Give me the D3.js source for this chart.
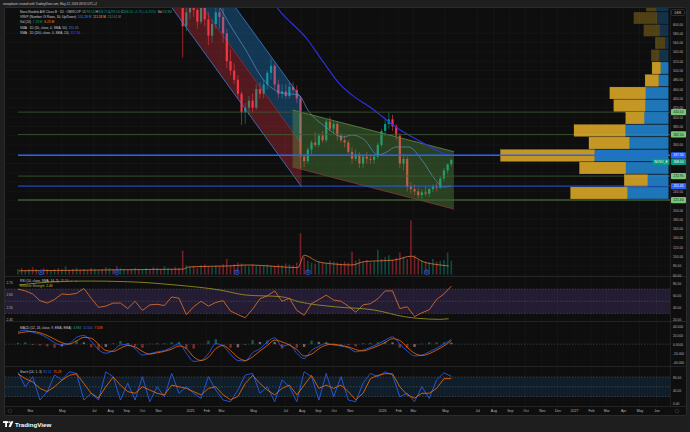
<!DOCTYPE html>
<html lang="en">
  <head>
    <meta charset="utf-8">
    <title>Novo Nordisk B - 1D</title>
    <script type="text/javascript" src="https://cdn.jsdelivr.net/npm/d3@7/dist/d3.min.js"></script>
    <style>
      body { margin: 0; background: #1e1e1e; }
      svg { display: block; font-family: "Liberation Sans", Arial, sans-serif; }
      text { white-space: pre; }
    </style>
  </head>
  <body>
    <script type="text/javascript">
    // ---------------- data ----------------

    // weekly candles, one per week from Monday 2 Dec 2024 to Monday 11 May 2026 (DKK)
    var candleOpen = [720,710,705,595,625,640,630,605,640,610,
      575,600,625,615,580,520,500,480,450,410,
      420,435,420,460,450,470,495,510,470,450,
      455,445,465,458,440,315,305,330,345,340,
      360,350,390,375,385,360,350,345,325,310,
      320,300,315,310,308,315,340,370,385,395,
      380,360,300,310,250,245,240,232,238,235,
      245,250,248,268,285,298.5];
    var candleHigh = [735,725,720,640,660,665,650,650,660,625,
      610,640,645,640,590,545,515,490,455,430,
      445,450,470,475,480,500,525,515,480,470,
      470,475,475,468,445,320,335,350,368,365,
      370,395,400,390,390,365,360,350,335,330,
      325,320,325,320,320,345,375,395,410,405,
      385,365,320,315,260,255,248,245,250,248,
      255,258,272,290,300,308.75];
    var candleLow = [700,690,528,585,610,615,590,600,595,555,
      560,590,590,560,505,490,470,440,383,385,
      405,410,415,440,440,460,480,460,440,440,
      440,440,450,430,290,292,300,320,335,335,
      345,345,370,365,350,345,335,320,300,305,
      290,290,300,300,300,310,335,360,375,370,
      350,290,285,240,235,232,225,223,230,228,
      238,240,245,262,278,293];
    var candleClose = [710,705,595,625,640,630,605,640,610,575,
      600,625,615,580,520,500,480,450,410,420,
      435,420,460,450,470,495,510,470,450,455,
      445,465,458,440,315,305,330,345,340,360,
      350,390,375,385,360,350,345,325,310,320,
      300,315,310,308,315,340,370,385,395,380,
      360,300,310,250,245,240,232,238,235,245,
      250,248,268,285,298.5,308];

    // weekly average volume (millions), weeks from Monday 5 Feb 2024
    var volumeM = [6,7,5,6,8,6,5,7,6, 5,6,7,6,9,5,6,7,5, 6,5,7,6,5,6,8,7,6,
      9,7,6,5,6,7,6,5,7, 6,8,7,6,9,7,6,8,7, 26,
      10,8,9,7,10,11,9,8,10,9,11, 17,
      10,11,13,12,10,9,11,10,9,10,11, 10,9,11,10,12,11,10,13, 45,
      19,15,13,12,14,13,12,15,14,13,12,14,13, 25,
      15,17,14,16,13,14, 27, 17,19,21,16,18, 24, 19,17, 59,
      21,16,15,14,13,17,14,15,16, 24, 15];
    // up/down colour of the volume weeks before the first candle
    var volumeEarlyDir = "uduudduddu" + "uduuddudud" + "duuduudduu" + "dduduuddud" + "uud";

    var volMaDates = ["2024-02-09","2024-04-21","2024-07-15","2024-10-15","2024-12-18","2024-12-30",
      "2025-01-20","2025-03-15","2025-04-20","2025-06-20","2025-07-25","2025-08-06","2025-09-01",
      "2025-10-01","2025-11-05","2025-11-28","2026-01-25","2026-02-26","2026-03-20","2026-04-21","2026-05-08"];
    var volMaValues = [4.1,4.4,4.9,5.5,5.8,8.2,8.7,9.3,10.4,8.5,7.5,21,14,11.5,10.4,14,15.8,20,14,10.4,9.3];

    var dividendDates = ["2024-03-22","2024-08-14","2025-03-31","2025-08-13","2026-03-27"];

    var sma50Dates = ["2025-02-20","2025-03-16","2025-04-17","2025-05-21","2025-06-25","2025-07-27",
      "2025-08-13","2025-09-16","2025-10-19","2025-11-05","2025-11-29","2025-12-24","2026-01-10",
      "2026-01-27","2026-02-21","2026-03-18","2026-04-13","2026-04-28","2026-05-12"];
    var sma50Values = [650,602,544,479.6,451.6,447,415,378.5,357,361.3,350.5,318.3,324.7,335.5,335.5,307.5,264.5,249.5,251.45];

    var sma200Dates = ["2025-05-15","2025-06-15","2025-08-13","2025-09-11","2025-10-11","2025-11-09",
      "2025-12-09","2026-01-02","2026-01-27","2026-03-10","2026-04-08","2026-05-08","2026-05-12"];
    var sma200Values = [690,636,565.6,519,473,443.7,421.5,400.6,378.5,350.5,332.6,318,317.56];

    // drawings
    var regressionDates = ["2024-11-01","2025-08-01"];
    var regressionUpper = [865.2,439.4];
    var regressionMid = [767.3,341.5];
    var regressionLower = [676,250.1];
    var channelDates = ["2025-07-15","2026-05-18"];
    var channelUpper = [415,325.4];
    var channelLower = [292.5,202];
    var greenLevels = [410.50,362.50,272.95,221.40];
    var blueLevels = [317.56,251.45];
    var lastClose = 308.00;

    // visible range volume profile, rows from the bottom (millions)
    var vrvpUp =   [8.3,4.2,8.6,14.9,7.9,8.7,4.9,4.7,4.6,2.0,1.6,1.8,0.7,1.7,2.3,2.5];
    var vrvpDown = [11.4,4.7,9.3,18.9,8.1,10.3,3.7,6.3,7.2,2.7,1.7,1.7,2.0,3.3,4.7,2.0];
    var vrvpLow = 223.2, vrvpStep = 26.88, vrvpValueAreaTop = 10;

    // oscillators, one point every two weeks from 7 Feb 2024
    var rsiValues = [70,67,62,51,47,53,62,61,63,71, 55,40,42,47,47,38,50,35,44,45,
      43,57,55,28,41,50,42,48,51,34, 28,23,37,54,59,67,50,55,35,27,
      46,53,60,52,50,42,32,44,46,54, 67,67,38,41,25,31,36,53,62,75];
    var relDates = ["2024-02-09","2024-04-21","2024-06-20","2024-09-03","2024-12-05","2025-02-27","2025-04-17",
      "2025-06-24","2025-07-27","2025-10-02","2025-12-17","2026-02-13","2026-03-10","2026-04-21","2026-05-08"];
    var relValues = [2.728,2.755,2.76,2.755,2.728,2.688,2.648,2.634,2.594,2.554,2.528,2.474,2.461,2.453,2.458];
    var macdValues = [27,31,26,22,14,3,-2,1,15,19, 6,-12,-20,-14,-2,-1,-10,-24,-21,-17,
      -14,-7,1,-20,-38,-36,-21,1,-4,-22, -36,-37,-19,-10,5,14,-5,-1,-20,-32,
      -14,-5,2,-2,-4,-8,-17,-13,-7,0, 9,16,0,-15,-26,-24,-17,-9,0,10.6];
    var signalValues = [24,27,28,25,19,11,3,0,7,15, 13,0,-14,-16,-9,-3,-6,-16,-22,-19,
      -16,-11,-4,-10,-28,-36,-29,-10,-3,-14, -29,-36,-28,-15,-3,9,5,-2,-12,-26,
      -22,-10,-2,0,-3,-6,-12,-15,-10,-4, 4,12,8,-7,-20,-25,-21,-13,-4,7.5];
    var stochK = [94,50,81,9,35,86,71,96,91,9, 30,9,96,81,9,61,9,81,4,50,
      19,91,30,50,30,14,81,40,9,4, 40,86,91,30,50,4,71,50,4,96,
      81,9,91,19,81,9,4,61,91,81, 96,86,19,30,4,50,14,71,93,82];
    var stochD = [90,75,65,45,35,50,70,85,90,60, 30,15,50,80,55,35,30,50,40,30,
      25,55,50,45,35,25,45,50,25,10, 20,60,85,60,40,25,45,55,25,55,
      85,45,55,45,55,35,10,30,75,85, 90,90,50,25,15,30,30,45,75,75];

    // axis labels
    var tickDates = ["2024-03-01","2024-05-01","2024-07-01","2024-08-01","2024-09-01","2024-10-01","2024-11-01",
      "2025-01-01","2025-02-01","2025-03-01","2025-05-01","2025-07-01","2025-08-01","2025-09-01","2025-10-01","2025-11-01",
      "2026-01-01","2026-02-01","2026-03-01","2026-05-01","2026-07-01","2026-08-01","2026-09-01","2026-10-01","2026-11-01","2026-12-01",
      "2027-01-01","2027-02-01","2027-03-01","2027-04-01","2027-05-01","2027-06-01"];
    var tickLabels = ["Mar","May","Jul","Aug","Sep","Oct","Nov","2025","Feb","Mar","May","Jul","Aug","Sep","Oct","Nov",
      "2026","Feb","Mar","May","Jul","Aug","Sep","Oct","Nov","Dec","2027","Feb","Mar","Apr","May","Jun"];
    var priceTicks = [600,580,560,540,520,500,480,460,440,420,400,380,360,340,320,300,280,260,240,220,200,180,160,140,120,100,80,60];
    var rsiTicks = [80,60,40,20];
    var relTicks = [2.75,2.65,2.55,2.45];
    var macdTicks = [40,20,0,-20,-40];
    var macdTickLabels = ["40.000","20.000","0.0000","-20.000","-40.000"];
    var stochTicks = [80,40,0];

    // ---------------- layout ----------------
    var w = 690, h = 432;
    var left = 5, right = 670;
    var upColor = "#089981", downColor = "#f23645";
    var parseDate = d3.timeParse("%Y-%m-%d");

    var svg = d3.select("body").append("svg").attr("width", w).attr("height", h);
    var defs = svg.append("defs");
    var addClip = function(id, y0, y1) {
      defs.append("clipPath").attr("id", id).append("rect")
        .attr("x", left).attr("y", y0).attr("width", right - left).attr("height", y1 - y0);
    };
    addClip("clipMain", 8, 276);
    addClip("clipRsi", 277, 321);
    addClip("clipMacd", 322, 366);
    addClip("clipStoch", 367, 406);

    // time scale anchored on the axis labels
    var x = d3.scaleTime()
      .domain(["2024-03-01","2025-01-01","2026-01-01","2026-05-01","2027-01-01","2027-06-01"].map(parseDate))
      .range([30, 190, 382, 445, 574, 656.5]);
    var y = d3.scaleLinear().domain([600, 200]).range([24, 210]);
    var yVol = d3.scaleLinear().domain([0, 60]).range([274.5, 219.5]);
    var yRsi = d3.scaleLinear().domain([80, 20]).range([283, 319.5]);
    var yRel = d3.scaleLinear().domain([2.75, 2.45]).range([282.3, 319.7]);
    var yMacd = d3.scaleLinear().domain([40, -40]).range([326, 362.3]);
    var yStoch = d3.scaleLinear().domain([80, 0]).range([377, 403]);

    // background and frame
    svg.append("rect").attr("width", w).attr("height", h).attr("fill", "#1e1e1e");
    svg.append("rect").attr("x", 4.5).attr("y", 7.5).attr("width", 682).attr("height", 408).attr("rx", 2)
      .attr("fill", "#0e0e0e").attr("stroke", "#2b2b2b");

    // grid
    var grid = svg.append("g");
    grid.selectAll("line.v").data(tickDates.map(parseDate)).enter().append("line")
      .attr("x1", function(d) { return x(d); }).attr("x2", function(d) { return x(d); })
      .attr("y1", 8).attr("y2", 406).attr("stroke", "#1a1a1a").attr("stroke-width", 0.6);
    grid.selectAll("line.h").data(priceTicks).enter().append("line")
      .attr("x1", left).attr("x2", right).attr("y1", function(d) { return y(d); }).attr("y2", function(d) { return y(d); })
      .attr("stroke", "#1a1a1a").attr("stroke-width", 0.6);

    // pane separators
    [276.5, 321.5, 366.5, 406.5].forEach(function(yy) {
      svg.append("line").attr("x1", left).attr("x2", 686).attr("y1", yy).attr("y2", yy).attr("stroke", "#2b2b2b").attr("stroke-width", 0.8);
    });
    svg.append("line").attr("x1", 670.5).attr("x2", 670.5).attr("y1", 8).attr("y2", 406).attr("stroke", "#2b2b2b").attr("stroke-width", 0.6);

    // ---------------- main pane ----------------
    var main = svg.append("g").attr("clip-path", "url(#clipMain)");

    var candleDates = d3.timeMonday.range(new Date(2024, 11, 2), new Date(2026, 4, 12));
    var candles = candleDates.map(function(d, i) {
      return { mid: d3.timeDay.offset(d, 2), open: candleOpen[i], high: candleHigh[i], low: candleLow[i], close: candleClose[i] };
    });

    // volume overlay
    var volumeDates = d3.timeMonday.range(new Date(2024, 1, 5), new Date(2026, 4, 12));
    var volumes = volumeDates.map(function(d, i) {
      var up;
      if (i < volumeEarlyDir.length) {
        up = volumeEarlyDir[i] === "u";
      } else {
        var c = candles[i - volumeEarlyDir.length];
        up = c.close >= c.open;
      }
      return { mid: d3.timeDay.offset(d, 2), v: volumeM[i], up: up };
    });
    main.selectAll("rect.vol").data(volumes).enter().append("rect")
      .attr("x", function(d) { return x(d.mid) - 0.8; })
      .attr("width", 1.6)
      .attr("y", function(d) { return yVol(d.v); })
      .attr("height", function(d) { return yVol(0) - yVol(d.v); })
      .attr("fill", function(d) { return d.up ? upColor : downColor; })
      .attr("opacity", 0.45);

    var volMa = volMaDates.map(function(d, i) { return [parseDate(d), volMaValues[i]]; });
    main.append("path").datum(volMa)
      .attr("d", d3.line().x(function(d) { return x(d[0]); }).y(function(d) { return yVol(d[1]); }).curve(d3.curveMonotoneX))
      .attr("fill", "none").attr("stroke", "#e0793a").attr("stroke-width", 0.8);

    var divs = main.selectAll("g.div").data(dividendDates.map(parseDate)).enter().append("g")
      .attr("transform", function(d) { return "translate(" + x(d) + ",272.3)"; });
    divs.append("circle").attr("r", 2.4).attr("fill", "#0d1a3a").attr("stroke", "#2962ff").attr("stroke-width", 0.7);
    divs.append("text").attr("text-anchor", "middle").attr("y", 1).attr("font-size", 2.8).attr("fill", "#6f9bff").text("D");

    // candles
    main.selectAll("line.wick").data(candles).enter().append("line")
      .attr("x1", function(d) { return x(d.mid); }).attr("x2", function(d) { return x(d.mid); })
      .attr("y1", function(d) { return y(d.high); }).attr("y2", function(d) { return y(d.low); })
      .attr("stroke", function(d) { return d.close >= d.open ? upColor : downColor; })
      .attr("stroke-width", 0.6);
    main.selectAll("rect.body").data(candles).enter().append("rect")
      .attr("x", function(d) { return x(d.mid) - 1.1; })
      .attr("width", 2.2)
      .attr("y", function(d) { return y(Math.max(d.open, d.close)); })
      .attr("height", function(d) { return Math.max(0.6, Math.abs(y(d.open) - y(d.close))); })
      .attr("fill", function(d) { return d.close >= d.open ? upColor : downColor; });

    // regression trend (blue upper half, red lower half)
    var rx0 = x(parseDate(regressionDates[0])), rx1 = x(parseDate(regressionDates[1]));
    var poly = function(a, b) {
      return [[rx0, y(a[0])], [rx1, y(a[1])], [rx1, y(b[1])], [rx0, y(b[0])]].join(" ");
    };
    main.append("polygon").attr("points", poly(regressionMid, regressionLower)).attr("fill", "rgba(242,54,69,0.3)");
    main.append("polygon").attr("points", poly(regressionUpper, regressionMid)).attr("fill", "rgba(33,150,243,0.3)");
    [[regressionUpper, "#3d7fd6"], [regressionLower, "#3d7fd6"], [regressionMid, "rgba(242,54,69,0.5)"]].forEach(function(l) {
      main.append("line").attr("x1", rx0).attr("x2", rx1).attr("y1", y(l[0][0])).attr("y2", y(l[0][1]))
        .attr("stroke", l[1]).attr("stroke-width", 0.8);
    });

    // parallel channel (green)
    var cx0 = x(parseDate(channelDates[0])), cx1 = x(parseDate(channelDates[1]));
    main.append("polygon")
      .attr("points", [[cx0, y(channelUpper[0])], [cx1, y(channelUpper[1])], [cx1, y(channelLower[1])], [cx0, y(channelLower[0])]].join(" "))
      .attr("fill", "rgba(96,170,70,0.33)");
    main.append("line").attr("x1", cx0).attr("x2", cx1).attr("y1", y(channelUpper[0])).attr("y2", y(channelUpper[1]))
      .attr("stroke", "#5f8f4a").attr("stroke-width", 0.8);
    main.append("line").attr("x1", cx0).attr("x2", cx1).attr("y1", y(channelLower[0])).attr("y2", y(channelLower[1]))
      .attr("stroke", "#8a3b34").attr("stroke-width", 0.8);

    // moving averages
    var sma = function(dates, values, color, width) {
      var pts = dates.map(function(d, i) { return [parseDate(d), values[i]]; });
      main.append("path").datum(pts)
        .attr("d", d3.line().x(function(d) { return x(d[0]); }).y(function(d) { return y(d[1]); }).curve(d3.curveMonotoneX))
        .attr("fill", "none").attr("stroke", color).attr("stroke-width", width);
    };
    sma(sma50Dates, sma50Values, "#5b8ec4", 0.7);
    sma(sma200Dates, sma200Values, "#2e32e8", 1.1);

    // horizontal levels (green ones sit under the profile)
    main.selectAll("line.glevel").data(greenLevels).enter().append("line")
      .attr("x1", 18).attr("x2", right).attr("y1", function(d) { return y(d); }).attr("y2", function(d) { return y(d); })
      .attr("stroke", "#3f5e33").attr("stroke-width", function(d, i) { return i === greenLevels.length - 1 ? 1.6 : 0.8; });

    // volume profile
    var rows = vrvpUp.map(function(u, i) {
      return { up: u, down: vrvpDown[i], lo: vrvpLow + i * vrvpStep, hi: vrvpLow + (i + 1) * vrvpStep, va: i <= vrvpValueAreaTop };
    });
    var vw = d3.scaleLinear().domain([0, d3.max(rows, function(r) { return r.up + r.down; })]).range([0, 168]);
    var profileRight = 668.5;
    main.selectAll("rect.vup").data(rows).enter().append("rect")
      .attr("x", function(r) { return profileRight - vw(r.up); }).attr("width", function(r) { return vw(r.up); })
      .attr("y", function(r) { return y(r.hi) + 0.4; }).attr("height", function(r) { return y(r.lo) - y(r.hi) - 0.8; })
      .attr("fill", function(r) { return r.va ? "rgba(33,133,210,0.88)" : "rgba(33,133,210,0.3)"; });
    main.selectAll("rect.vdown").data(rows).enter().append("rect")
      .attr("x", function(r) { return profileRight - vw(r.up + r.down); }).attr("width", function(r) { return vw(r.down); })
      .attr("y", function(r) { return y(r.hi) + 0.4; }).attr("height", function(r) { return y(r.lo) - y(r.hi) - 0.8; })
      .attr("fill", function(r) { return r.va ? "rgba(222,170,40,0.88)" : "rgba(222,170,40,0.32)"; })
      .attr("stroke", function(r) { return r.va ? "rgba(255,200,60,0.5)" : "none"; }).attr("stroke-width", 0.4);

    main.selectAll("line.blevel").data(blueLevels).enter().append("line")
      .attr("x1", 18).attr("x2", right).attr("y1", function(d) { return y(d); }).attr("y2", function(d) { return y(d); })
      .attr("stroke", "#2962ff").attr("stroke-width", function(d, i) { return i === 0 ? 1.5 : 0.9; });

    // ---------------- RSI pane ----------------
    var oscDates = d3.range(rsiValues.length).map(function(i) { return d3.timeDay.offset(new Date(2024, 1, 7), 14 * i); });
    var rsiG = svg.append("g").attr("clip-path", "url(#clipRsi)");
    rsiG.append("rect").attr("x", left).attr("width", right - left).attr("y", yRsi(70)).attr("height", yRsi(30) - yRsi(70))
      .attr("fill", "rgba(126,87,194,0.2)");
    [70, 50, 30].forEach(function(v) {
      rsiG.append("line").attr("x1", left).attr("x2", right).attr("y1", yRsi(v)).attr("y2", yRsi(v))
        .attr("stroke", "#5d606b").attr("stroke-width", 0.5).attr("stroke-dasharray", "1.5,1.5");
    });
    rsiG.append("path").datum(relDates.map(function(d, i) { return [parseDate(d), relValues[i]]; }))
      .attr("d", d3.line().x(function(d) { return x(d[0]); }).y(function(d) { return yRel(d[1]); }).curve(d3.curveMonotoneX))
      .attr("fill", "none").attr("stroke", "#9f9a22").attr("stroke-width", 0.8);
    rsiG.append("path").datum(rsiValues)
      .attr("d", d3.line().x(function(d, i) { return x(oscDates[i]); }).y(function(d) { return yRsi(d); }))
      .attr("fill", "none").attr("stroke", "#e8752c").attr("stroke-width", 0.8);

    // ---------------- MACD pane ----------------
    var macdG = svg.append("g").attr("clip-path", "url(#clipMacd)");
    macdG.append("line").attr("x1", left).attr("x2", right).attr("y1", yMacd(0)).attr("y2", yMacd(0))
      .attr("stroke", "#5d606b").attr("stroke-width", 0.5).attr("stroke-dasharray", "1.5,1.5");
    var hist = macdValues.map(function(m, i) { return m - signalValues[i]; });
    macdG.selectAll("rect.hist").data(hist).enter().append("rect")
      .attr("x", function(d, i) { return x(oscDates[i]) - 1.2; })
      .attr("width", 2.4)
      .attr("y", function(d) { return Math.min(yMacd(d), yMacd(0)); })
      .attr("height", function(d) { return Math.abs(yMacd(d) - yMacd(0)); })
      .attr("fill", function(d, i) {
        var prev = i > 0 ? hist[i - 1] : d;
        if (d >= 0) return d >= prev ? "#26a69a" : "#b2dfdb";
        return d <= prev ? "#ff5252" : "#ffcdd2";
      })
      .attr("opacity", 0.45);
    var oscLine = function(g, values, scale, color) {
      g.append("path").datum(values)
        .attr("d", d3.line().x(function(d, i) { return x(oscDates[i]); }).y(function(d) { return scale(d); }).curve(d3.curveMonotoneX))
        .attr("fill", "none").attr("stroke", color).attr("stroke-width", 0.8);
    };
    oscLine(macdG, macdValues, yMacd, "#2962ff");
    oscLine(macdG, signalValues, yMacd, "#ff6d00");

    // ---------------- Stochastic pane ----------------
    var stG = svg.append("g").attr("clip-path", "url(#clipStoch)");
    stG.append("rect").attr("x", left).attr("width", right - left).attr("y", yStoch(80)).attr("height", yStoch(20) - yStoch(80))
      .attr("fill", "rgba(33,150,243,0.12)");
    [80, 50, 20].forEach(function(v) {
      stG.append("line").attr("x1", left).attr("x2", right).attr("y1", yStoch(v)).attr("y2", yStoch(v))
        .attr("stroke", "#5d606b").attr("stroke-width", 0.5).attr("stroke-dasharray", "1.5,1.5");
    });
    var stLine = function(values, color) {
      stG.append("path").datum(values)
        .attr("d", d3.line().x(function(d, i) { return x(oscDates[i]); }).y(function(d) { return yStoch(d); }))
        .attr("fill", "none").attr("stroke", color).attr("stroke-width", 0.8);
    };
    stLine(stochK, "#2962ff");
    stLine(stochD, "#ff6d00");

    // ---------------- axes ----------------
    var styleAxis = function(g) {
      g.attr("font-size", 3.3).attr("font-family", null);
      g.select(".domain").remove();
      g.selectAll("text").attr("fill", "#b2b5be");
    };

    // price labels on the right
    var levelLabels = greenLevels.map(function(v) { return { v: v, fill: "#7ac47a", color: "#0f2a10" }; })
      .concat(blueLevels.map(function(v) { return { v: v, fill: "#2962ff", color: "#ffffff" }; }))
      .concat([{ v: lastClose, fill: upColor, color: "#ffffff", last: true }]);
    levelLabels.sort(function(a, b) { return b.v - a.v; });
    var prevY = -100;
    levelLabels.forEach(function(l) {
      l.y = Math.max(y(l.v), prevY + 6.6);
      prevY = l.y;
    });
    var freeTicks = priceTicks.filter(function(t) {
      return levelLabels.every(function(l) { return Math.abs(y(t) - l.y) > 4.2; }) && y(t) > 16;
    });
    svg.append("g").attr("transform", "translate(670,0)")
      .call(d3.axisRight(y).tickValues(freeTicks).tickFormat(d3.format(".2f")).tickSize(0).tickPadding(3))
      .call(styleAxis);

    var lab = svg.selectAll("g.lvl").data(levelLabels).enter().append("g")
      .attr("transform", function(l) { return "translate(0," + l.y + ")"; });
    lab.append("rect").attr("x", 671).attr("y", -3.1).attr("width", 15).attr("height", 6.2).attr("rx", 1)
      .attr("fill", function(l) { return l.fill; });
    lab.append("text").attr("x", 678.5).attr("y", 1.15).attr("text-anchor", "middle").attr("font-size", 3.3)
      .attr("fill", function(l) { return l.color; }).text(function(l) { return d3.format(".2f")(l.v); });
    var lastLab = levelLabels.filter(function(l) { return l.last; })[0];
    svg.append("rect").attr("x", 652.5).attr("y", lastLab.y - 3.1).attr("width", 17).attr("height", 6.2).attr("rx", 1).attr("fill", upColor);
    svg.append("text").attr("x", 661).attr("y", lastLab.y + 1.15).attr("text-anchor", "middle").attr("font-size", 3.1)
      .attr("fill", "#ffffff").text("NOVO_B");

    svg.append("rect").attr("x", 671.5).attr("y", 9.5).attr("width", 13).attr("height", 6).attr("rx", 1)
      .attr("fill", "#0e0e0e").attr("stroke", "#4a4a4a").attr("stroke-width", 0.5);
    svg.append("text").attr("x", 678).attr("y", 13.7).attr("text-anchor", "middle").attr("font-size", 3.3).attr("fill", "#d1d4dc").text("DKK");

    svg.append("g").attr("transform", "translate(670,0)")
      .call(d3.axisRight(yRsi).tickValues(rsiTicks).tickFormat(d3.format(".2f")).tickSize(0).tickPadding(3))
      .call(styleAxis);
    svg.append("g").attr("transform", "translate(5,0)")
      .call(d3.axisRight(yRel).tickValues(relTicks).tickFormat(d3.format(".2f")).tickSize(0).tickPadding(1.5))
      .call(styleAxis);
    svg.append("g").attr("transform", "translate(670,0)")
      .call(d3.axisRight(yMacd).tickValues(macdTicks).tickFormat(function(d, i) { return macdTickLabels[i]; }).tickSize(0).tickPadding(3))
      .call(styleAxis);
    svg.append("g").attr("transform", "translate(670,0)")
      .call(d3.axisRight(yStoch).tickValues(stochTicks).tickFormat(d3.format(".2f")).tickSize(0).tickPadding(3))
      .call(styleAxis);

    var timeAxis = svg.append("g").attr("transform", "translate(0,409.3)")
      .call(d3.axisBottom(x).tickValues(tickDates.map(parseDate))
        .tickFormat(function(d, i) { return tickLabels[i]; }).tickSize(0).tickPadding(0))
      .call(styleAxis);
    timeAxis.attr("font-size", 3.5);
    [10, 677].forEach(function(cx) {
      svg.append("circle").attr("cx", cx).attr("cy", 411).attr("r", 1.8).attr("fill", "none").attr("stroke", "#4a4a4a").attr("stroke-width", 0.5);
    });

    // ---------------- legends ----------------
    var legend = function(xPos, yPos, parts, size) {
      var t = svg.append("text").attr("x", xPos).attr("y", yPos).attr("font-size", size || 3.2);
      parts.forEach(function(p) { t.append("tspan").attr("fill", p[1]).text(p[0]); });
    };
    var txt = "#c9ccd4", teal = upColor;
    legend(3, 5.2, [["novoplanet created with TradingView.com, May 12, 2026 08:55 UTC+2", "#c9ccd4"]], 3);
    legend(20, 13.4, [["Novo Nordisk A/S Class B · 1D · OMXCOP  ", txt], ["O", txt], ["298.50 ", teal], ["H", txt], ["308.75 ", teal],
      ["L", txt], ["293.00 ", teal], ["C", txt], ["308.00 +9.70 (+3.25%)  ", teal], ["Vol ", txt], ["28.8M", teal]]);
    legend(20, 18.4, [["VRVP (Number Of Rows, 30, Up/Down)  ", txt], ["101.28 M  ", "#2196f3"], ["111.33 M  ", "#e8b22a"], ["212.61 M", "#787b86"]]);
    legend(20, 23.2, [["Vol (20)  ", txt], ["7.28 M  ", teal], ["6.23 M", "#ff9800"]]);
    legend(20, 28.6, [["SMA · 1D (50, close, 0, SMA, 50)  ", txt], ["251.45", "#5b8ec4"]]);
    legend(20, 33.6, [["SMA · 1D (200, close, 0, SMA, 20)  ", txt], ["317.56", "#4b50ff"]]);

    legend(20, 281.8, [["RSI (14, close, SMA, 14, 2)  ", txt], ["75.19  ", "#e8752c"], ["∅  ∅", "#787b86"]]);
    legend(20, 286.8, [["Relative Strength  ", "#b8b24a"], ["2.46", "#c8c04a"]]);
    legend(20, 328.8, [["MACD (12, 26, close, 9, EMA, EMA)  ", txt], ["4.984  ", "#26a69a"], ["10.564  ", "#2962ff"], ["7.538", "#ff6d00"]]);
    legend(20, 372.8, [["Stoch (14, 1, 3)  ", txt], ["82.21  ", "#2962ff"], ["75.28", "#ff6d00"]]);

    // ---------------- footer logo ----------------
    var logo = svg.append("g").attr("fill", "#ffffff");
    logo.append("rect").attr("x", 3).attr("y", 421.2).attr("width", 5).attr("height", 1.8);
    logo.append("rect").attr("x", 5.2).attr("y", 421.2).attr("width", 1.8).attr("height", 5.8);
    logo.append("circle").attr("cx", 9.2).attr("cy", 422.1).attr("r", 0.9);
    logo.append("polygon").attr("points", "10.8,421.2 13.4,421.2 10.8,427 8.6,427");
    svg.append("text").attr("x", 15).attr("y", 426.6).attr("font-size", 6.2).attr("font-weight", "bold")
      .attr("fill", "#ffffff").text("TradingView");
    </script>
  </body>
</html>
